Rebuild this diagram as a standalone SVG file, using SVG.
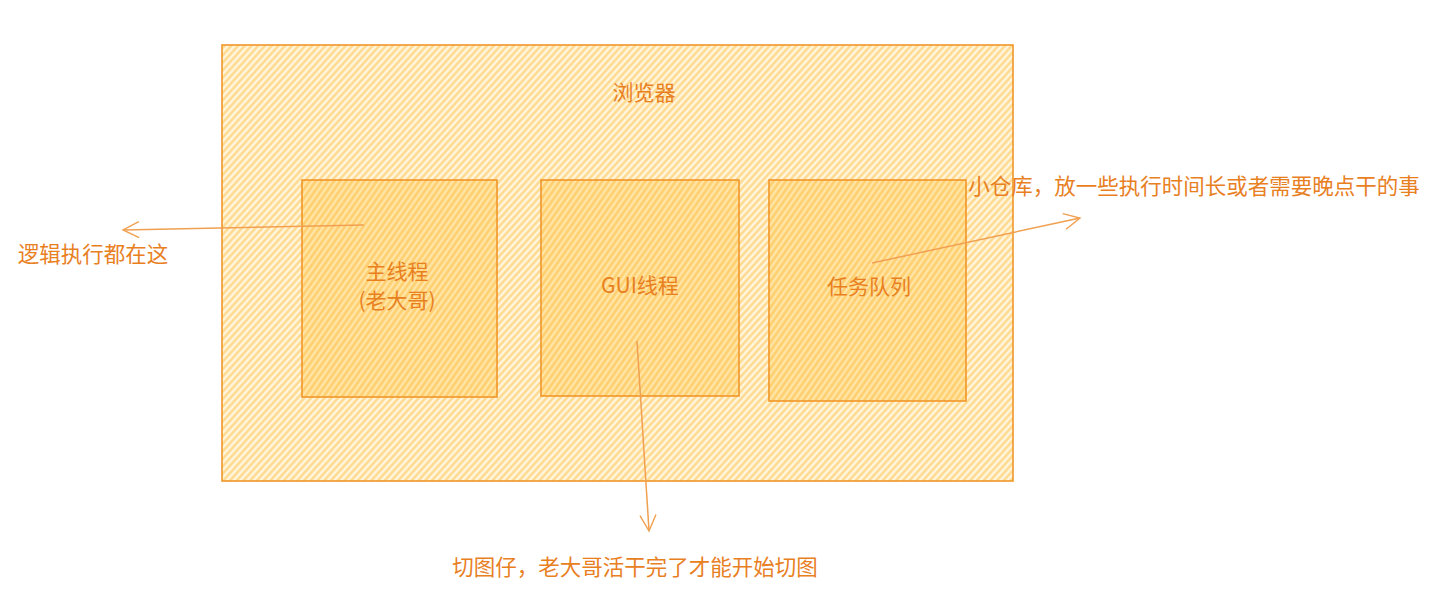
<svg xmlns="http://www.w3.org/2000/svg" width="1443" height="604" viewBox="0 0 1443 604">
<defs>
<pattern id="hach" width="5" height="5" patternUnits="userSpaceOnUse" patternTransform="rotate(-48)">
<rect width="5" height="5" fill="#fff6e0"/>
<line x1="0" y1="2.5" x2="5" y2="2.5" stroke="#ffd98a" stroke-width="2.4"/>
</pattern>
<pattern id="hach2" width="5" height="5" patternUnits="userSpaceOnUse" patternTransform="rotate(-55)">
<rect width="5" height="5" fill="#ffe6a8"/>
<line x1="0" y1="2.5" x2="5" y2="2.5" stroke="#ffcf6e" stroke-width="2.6"/>
</pattern>
<marker id="arr" viewBox="0 0 20 20" refX="18" refY="10" markerWidth="20" markerHeight="20" markerUnits="userSpaceOnUse" orient="auto">
<path d="M2,2 L18,10 L2,18" fill="none" stroke="#f0a050" stroke-width="1.4"/>
</marker>
<style>
.box{stroke:#f0962a;stroke-width:1.6}
.t{font-family:"Noto Sans CJK SC","Noto Sans",sans-serif;font-size:21.5px;fill:#e8801f;text-anchor:middle}
.in{font-size:21px}
.c{fill:none;stroke:#f0a050;stroke-width:1.5}
</style>
</defs>
<g id="browser">
<rect class="box" x="222" y="45" width="791" height="436" fill="url(#hach)"/>
<text class="t in" x="644" y="100">浏览器</text>
</g>
<g id="main-thread">
<rect class="box" x="302" y="180" width="195" height="217" fill="url(#hach2)"/>
<text class="t in" x="397" y="279">主线程</text>
<text class="t in" x="397" y="308">(老大哥)</text>
</g>
<g id="gui-thread">
<rect class="box" x="541" y="180" width="198" height="216" fill="url(#hach2)"/>
<text class="t in" x="640" y="293">GUI线程</text>
</g>
<g id="task-queue">
<rect class="box" x="769" y="180" width="197" height="221" fill="url(#hach2)"/>
<text class="t in" x="869" y="294">任务队列</text>
</g>
<g id="labels">
<text class="t" x="93" y="262">逻辑执行都在这</text>
<text class="t" x="1194" y="194">小仓库，放一些执行时间长或者需要晚点干的事</text>
<text class="t" x="635" y="575">切图仔，老大哥活干完了才能开始切图</text>
</g>
<g id="connectors">
<path class="c" d="M364,225 L123,230" marker-end="url(#arr)"/>
<path class="c" d="M637,341 L649,531" marker-end="url(#arr)"/>
<path class="c" d="M872,263 L1080,218" marker-end="url(#arr)"/>
</g>
</svg>
